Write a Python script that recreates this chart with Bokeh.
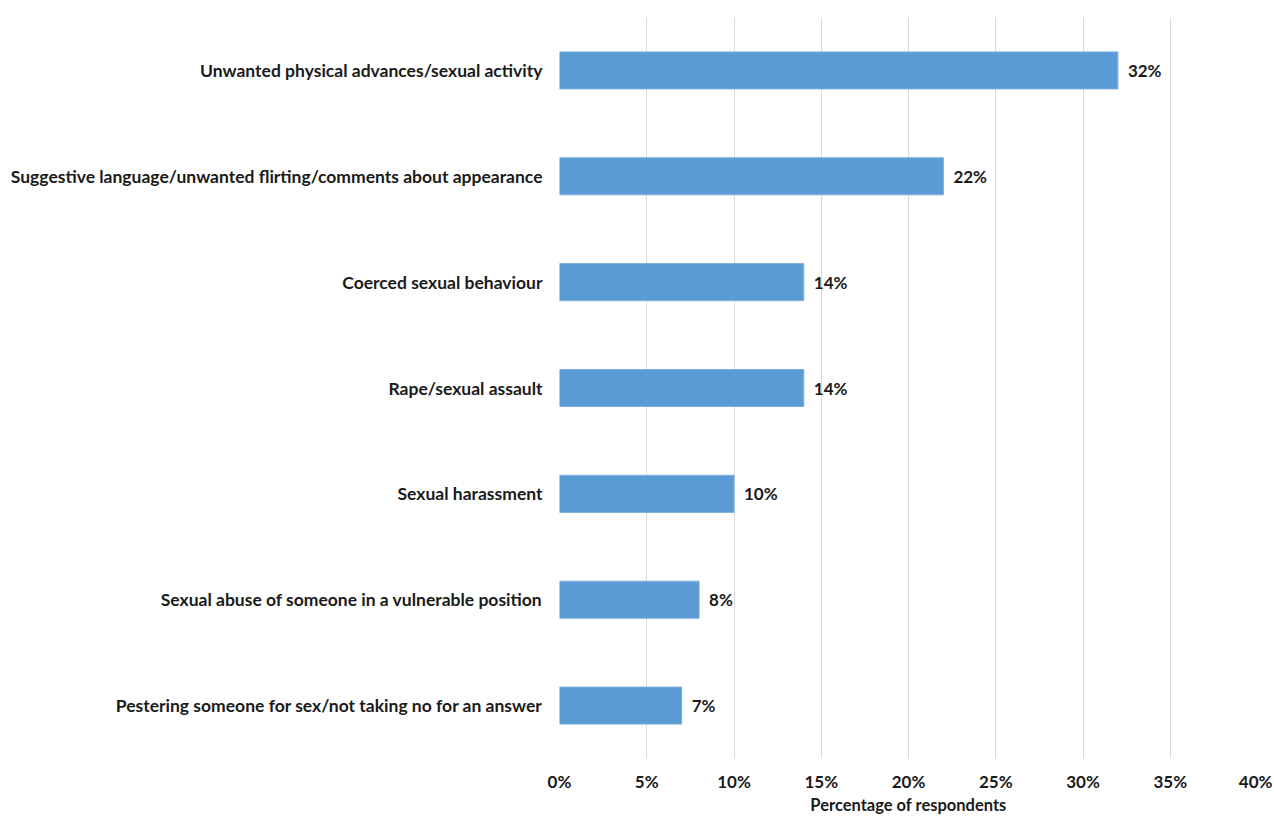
from bokeh.plotting import figure
from bokeh.models import ColumnDataSource, FactorRange, Range1d, NumeralTickFormatter, FixedTicker, LabelSet
from bokeh.core.properties import value
from bokeh.embed import file_html
from bokeh.resources import INLINE

categories = [
    "Unwanted physical advances/sexual activity",
    "Suggestive language/unwanted flirting/comments about appearance",
    "Coerced sexual behaviour",
    "Rape/sexual assault",
    "Sexual harassment",
    "Sexual abuse of someone in a vulnerable position",
    "Pestering someone for sex/not taking no for an answer",
]
values = [0.32, 0.22, 0.14, 0.14, 0.10, 0.08, 0.07]
value_labels = ["32%", "22%", "14%", "14%", "10%", "8%", "7%"]
x_ticks = [0, 0.05, 0.10, 0.15, 0.20, 0.25, 0.30, 0.35, 0.40]

FONT = "Lato"
TXT = "#1a1a1a"
source = ColumnDataSource(dict(cat=categories, val=values, lab=value_labels))

p = figure(
    width=1272, height=817,
    y_range=FactorRange(factors=list(reversed(categories))),
    x_range=Range1d(0, 0.40),
    output_backend="svg", toolbar_location=None,
    min_border_left=559, min_border_right=15, min_border_top=17, min_border_bottom=58,
)
p.outline_line_color = None
p.hbar(y="cat", right="val", left=0, height=0.35, source=source,
       fill_color="#5B9BD5", line_color="#7FB0DE", line_width=1)

labels = LabelSet(x="val", y="cat", text="lab", source=source, x_offset=10,
                  text_baseline="middle", text_align="left",
                  text_font=value(FONT), text_font_style="bold", text_font_size="17px", text_color=TXT)
p.add_layout(labels)

p.xaxis.ticker = FixedTicker(ticks=x_ticks)
p.xaxis.formatter = NumeralTickFormatter(format="0%")
p.xaxis.axis_line_color = None
p.xaxis.major_tick_line_color = None
p.xaxis.minor_tick_line_color = None
p.xaxis.major_tick_in = 0
p.xaxis.major_tick_out = 0
p.xaxis.major_label_standoff = 12
p.xaxis.major_label_text_font = FONT
p.xaxis.major_label_text_font_style = "bold"
p.xaxis.major_label_text_font_size = "17px"
p.xaxis.major_label_text_color = TXT
p.xaxis.axis_label = "Percentage of respondents"
p.xaxis.axis_label_text_font = FONT
p.xaxis.axis_label_text_font_style = "bold"
p.xaxis.axis_label_text_font_size = "16.5px"
p.xaxis.axis_label_text_color = TXT
p.xaxis.axis_label_standoff = 0

p.yaxis.axis_line_color = None
p.yaxis.major_tick_line_color = None
p.yaxis.minor_tick_line_color = None
p.yaxis.major_tick_in = 0
p.yaxis.major_tick_out = 0
p.yaxis.major_label_standoff = 17
p.yaxis.major_label_text_font = FONT
p.yaxis.major_label_text_font_style = "bold"
p.yaxis.major_label_text_font_size = "17.5px"
p.yaxis.major_label_text_color = TXT

p.xgrid.grid_line_color = "#D9D9D9"
p.ygrid.grid_line_color = None

open("out.html", "w").write(file_html(p, INLINE))
